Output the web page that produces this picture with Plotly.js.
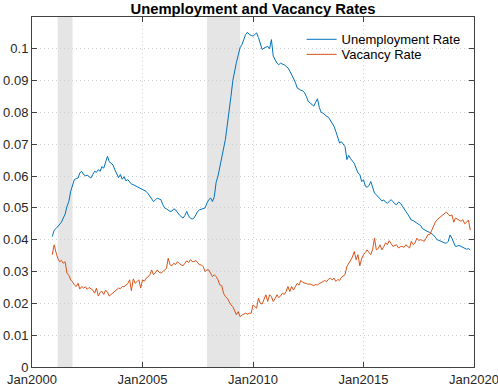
<!DOCTYPE html>
<html>
<head>
<meta charset="utf-8">
<script src="https://cdn.plot.ly/plotly-3.0.1.min.js"></script>
<style>
  html, body { margin: 0; padding: 0; background: #ffffff; }
  #chart { width: 498px; height: 387px; }
</style>
</head>
<body>
<div id="chart"></div>
<script>
// monthly series, Dec 2000 .. Nov 2019
const startDate = '2000-12-01';

const unemploymentRate = [
    0.041,
    0.043, 0.0435, 0.0442, 0.045, 0.0455, 0.0468, 0.048, 0.0505, 0.052, 0.0552, 0.0575, 0.0589,
    0.0592, 0.0594, 0.061, 0.0615, 0.0605, 0.0601, 0.0603, 0.0598, 0.0594, 0.0605, 0.0615, 0.0612,
    0.062, 0.0615, 0.063, 0.0625, 0.0645, 0.0662, 0.0645, 0.064, 0.0635, 0.062, 0.0605, 0.0595,
    0.0605, 0.059, 0.0598, 0.0585, 0.0589, 0.058, 0.0575, 0.0573, 0.057, 0.0568, 0.0566, 0.0562,
    0.0558, 0.0555, 0.0552, 0.0545, 0.0536, 0.053, 0.052, 0.0525, 0.0531, 0.0528, 0.0526, 0.051,
    0.05, 0.0497, 0.0494, 0.0489, 0.049, 0.0497, 0.0494, 0.0485, 0.0478, 0.0473, 0.0468, 0.0476,
    0.0489, 0.0475, 0.0468, 0.0465, 0.0468, 0.0478, 0.0489, 0.0494, 0.0496, 0.0497, 0.05, 0.0515,
    0.0526, 0.0531, 0.052, 0.0535, 0.058, 0.06, 0.063, 0.065, 0.068, 0.0715, 0.076, 0.08,
    0.085, 0.09, 0.093, 0.0957, 0.098, 0.1004, 0.1013, 0.103, 0.1045, 0.1052, 0.1045, 0.1042,
    0.104, 0.1045, 0.105, 0.1035, 0.1015, 0.0998, 0.1002, 0.1005, 0.1008, 0.1, 0.1029, 0.0977,
    0.0965, 0.0955, 0.095, 0.0955, 0.0952, 0.095, 0.0945, 0.094, 0.093, 0.0919, 0.091, 0.0895,
    0.0877, 0.0872, 0.087, 0.0868, 0.0862, 0.085, 0.0835, 0.083, 0.0825, 0.082, 0.0832, 0.0843,
    0.0815, 0.08, 0.0798, 0.0792, 0.0788, 0.0785, 0.0775, 0.0765, 0.0756, 0.074, 0.072, 0.0704,
    0.0708, 0.0699, 0.0693, 0.0652, 0.0665, 0.0655, 0.0646, 0.064, 0.0625, 0.061, 0.0605, 0.0583,
    0.0588, 0.0568, 0.0565, 0.057, 0.0583, 0.056, 0.0547, 0.0541, 0.0535, 0.0526, 0.0522, 0.0525,
    0.0518, 0.0515, 0.052, 0.0526, 0.052, 0.0513, 0.051, 0.0518, 0.0515, 0.0505, 0.0495, 0.0489,
    0.048, 0.0472, 0.0462, 0.046, 0.0455, 0.0452, 0.0448, 0.0445, 0.0435, 0.0431, 0.0428, 0.0425,
    0.0423, 0.042, 0.0415, 0.0408, 0.04, 0.0398, 0.0395, 0.0391, 0.039, 0.0389, 0.0395, 0.0415,
    0.0405, 0.039, 0.0379, 0.038, 0.0382, 0.0379, 0.0376, 0.0374, 0.037, 0.0372, 0.0368
];

const vacancyRate = [
    0.0353,
    0.0384, 0.036, 0.0342, 0.0331, 0.0335, 0.0326, 0.0331, 0.0295, 0.0288, 0.0274, 0.0268, 0.0258,
    0.0253, 0.0263, 0.0245, 0.0253, 0.0248, 0.0252, 0.0244, 0.025, 0.0247, 0.0242, 0.0232, 0.0248,
    0.0223, 0.0235, 0.0238, 0.0228, 0.0242, 0.0235, 0.0223, 0.0228, 0.0232, 0.0236, 0.0242, 0.0248,
    0.0246, 0.0253, 0.0252, 0.0258, 0.0262, 0.0274, 0.024, 0.0277, 0.0263, 0.0268, 0.0274, 0.0248,
    0.0274, 0.027, 0.0279, 0.0283, 0.029, 0.0305, 0.029, 0.0296, 0.0305, 0.0298, 0.0295, 0.03,
    0.0305, 0.031, 0.0342, 0.0321, 0.0318, 0.0326, 0.0322, 0.0331, 0.0325, 0.0321, 0.0318, 0.0326,
    0.0334, 0.0328, 0.0337, 0.0332, 0.0331, 0.0335, 0.0326, 0.0321, 0.0321, 0.0315, 0.03, 0.0305,
    0.0305, 0.0295, 0.0284, 0.029, 0.0284, 0.0274, 0.0258, 0.0256, 0.0232, 0.0221, 0.0216, 0.0206,
    0.0195, 0.019, 0.0175, 0.0164, 0.0174, 0.0158, 0.0163, 0.0166, 0.0169, 0.0166, 0.0169, 0.0169,
    0.0195, 0.019, 0.0185, 0.0216, 0.02, 0.0198, 0.0216, 0.0227, 0.0206, 0.0227, 0.0221, 0.0206,
    0.0215, 0.0227, 0.0218, 0.0223, 0.0232, 0.0228, 0.0237, 0.0253, 0.0237, 0.0253, 0.0242, 0.0255,
    0.0263, 0.0258, 0.0272, 0.0266, 0.0263, 0.0262, 0.026, 0.0261, 0.0258, 0.0256, 0.0259, 0.0258,
    0.0262, 0.0265, 0.0269, 0.0272, 0.0268, 0.0276, 0.0279, 0.0274, 0.0279, 0.0269, 0.0275, 0.0272,
    0.0282, 0.0287, 0.029, 0.0316, 0.0325, 0.0337, 0.0345, 0.0363, 0.0337, 0.0353, 0.0318, 0.034,
    0.0353, 0.036, 0.0368, 0.036, 0.0353, 0.037, 0.0405, 0.0368, 0.0372, 0.0384, 0.0368, 0.0378,
    0.039, 0.0385, 0.0397, 0.0388, 0.0379, 0.0382, 0.0384, 0.0374, 0.0378, 0.0379, 0.0376, 0.0384,
    0.0378, 0.0374, 0.0395, 0.0385, 0.039, 0.0405, 0.0398, 0.04, 0.0398, 0.0395, 0.0405, 0.0416,
    0.0416, 0.043, 0.0442, 0.0455, 0.0463, 0.0468, 0.0472, 0.0478, 0.048, 0.0487, 0.048, 0.0475,
    0.0478, 0.0455, 0.0468, 0.0465, 0.0462, 0.0458, 0.0463, 0.045, 0.0455, 0.0462, 0.043
];

// NBER recessions
const recessionStarts = ['2001-03-01', '2007-12-01'];
const recessionEnds = ['2001-11-01', '2009-06-01'];

const xTickVals = ['2000-01-01', '2005-01-01', '2010-01-01', '2015-01-01', '2020-01-01'];
const xTickText = ['Jan2000', 'Jan2005', 'Jan2010', 'Jan2015', 'Jan2020'];
const yTickVals = [0, 0.01, 0.02, 0.03, 0.04, 0.05, 0.06, 0.07, 0.08, 0.09, 0.1];

function monthDates(start, n) {
    const d0 = new Date(start + 'T00:00:00Z');
    const out = [];
    for (let i = 0; i < n; i++) {
        const d = new Date(Date.UTC(d0.getUTCFullYear(), d0.getUTCMonth() + i, 1));
        out.push(d.toISOString().slice(0, 10));
    }
    return out;
}

const dates = monthDates(startDate, unemploymentRate.length);

// one legend per series so the row spacing can match the original
const traces = [
    {
        x: dates,
        y: unemploymentRate,
        name: 'Unemployment Rate',
        type: 'scatter',
        mode: 'lines',
        line: { color: '#0072BD', width: 1 },
        legend: 'legend'
    },
    {
        x: dates,
        y: vacancyRate,
        name: 'Vacancy Rate',
        type: 'scatter',
        mode: 'lines',
        line: { color: '#D95319', width: 1 },
        legend: 'legend2'
    }
];

const shapes = recessionStarts.map((s, i) => ({
    type: 'rect',
    xref: 'x',
    yref: 'paper',
    x0: s,
    x1: recessionEnds[i],
    y0: 0,
    y1: 1,
    fillcolor: '#e5e5e5',
    line: { width: 0 },
    layer: 'between'
}));

const font = 'Liberation Sans, Arial, sans-serif';

const axisCommon = {
    showline: true,
    linecolor: '#404040',
    linewidth: 1,
    mirror: 'ticks',
    ticks: 'inside',
    ticklen: 5,
    tickcolor: '#404040',
    showgrid: true,
    gridcolor: '#cfcfcf',
    griddash: '1px,3px',
    gridwidth: 1,
    zeroline: false,
    automargin: false,
    ticklabeloverflow: 'allow',
    tickfont: { family: font, size: 13, color: '#262626' }
};

const legendCommon = {
    x: 0.61,
    xanchor: 'left',
    yanchor: 'top',
    bgcolor: 'rgba(0,0,0,0)',
    borderwidth: 0,
    font: { family: font, size: 13, color: '#000000' }
};

const layout = {
    width: 498,
    height: 387,
    title: {
        text: '<b>Unemployment and Vacancy Rates</b>',
        font: { family: font, size: 14.8, color: '#000000' },
        x: 0.5,
        xref: 'paper',
        y: 0.978,
        yanchor: 'middle'
    },
    xaxis: Object.assign({}, axisCommon, {
        type: 'date',
        range: ['2000-01-01', '2020-01-01'],
        tickmode: 'array',
        tickvals: xTickVals,
        ticktext: xTickText
    }),
    yaxis: Object.assign({}, axisCommon, {
        range: [0, 0.11],
        tickmode: 'array',
        tickvals: yTickVals,
        ticktext: yTickVals.map(v => String(v))
    }),
    shapes: shapes,
    showlegend: true,
    legend: Object.assign({}, legendCommon, { y: 0.979 }),
    legend2: Object.assign({}, legendCommon, { y: 0.936 }),
    paper_bgcolor: '#ffffff',
    plot_bgcolor: '#ffffff',
    margin: { l: 32, r: 24, t: 17, b: 20 }
};

const config = {
    responsive: false,
    displayModeBar: false
};

Plotly.newPlot('chart', traces, layout, config);
</script>
</body>
</html>
